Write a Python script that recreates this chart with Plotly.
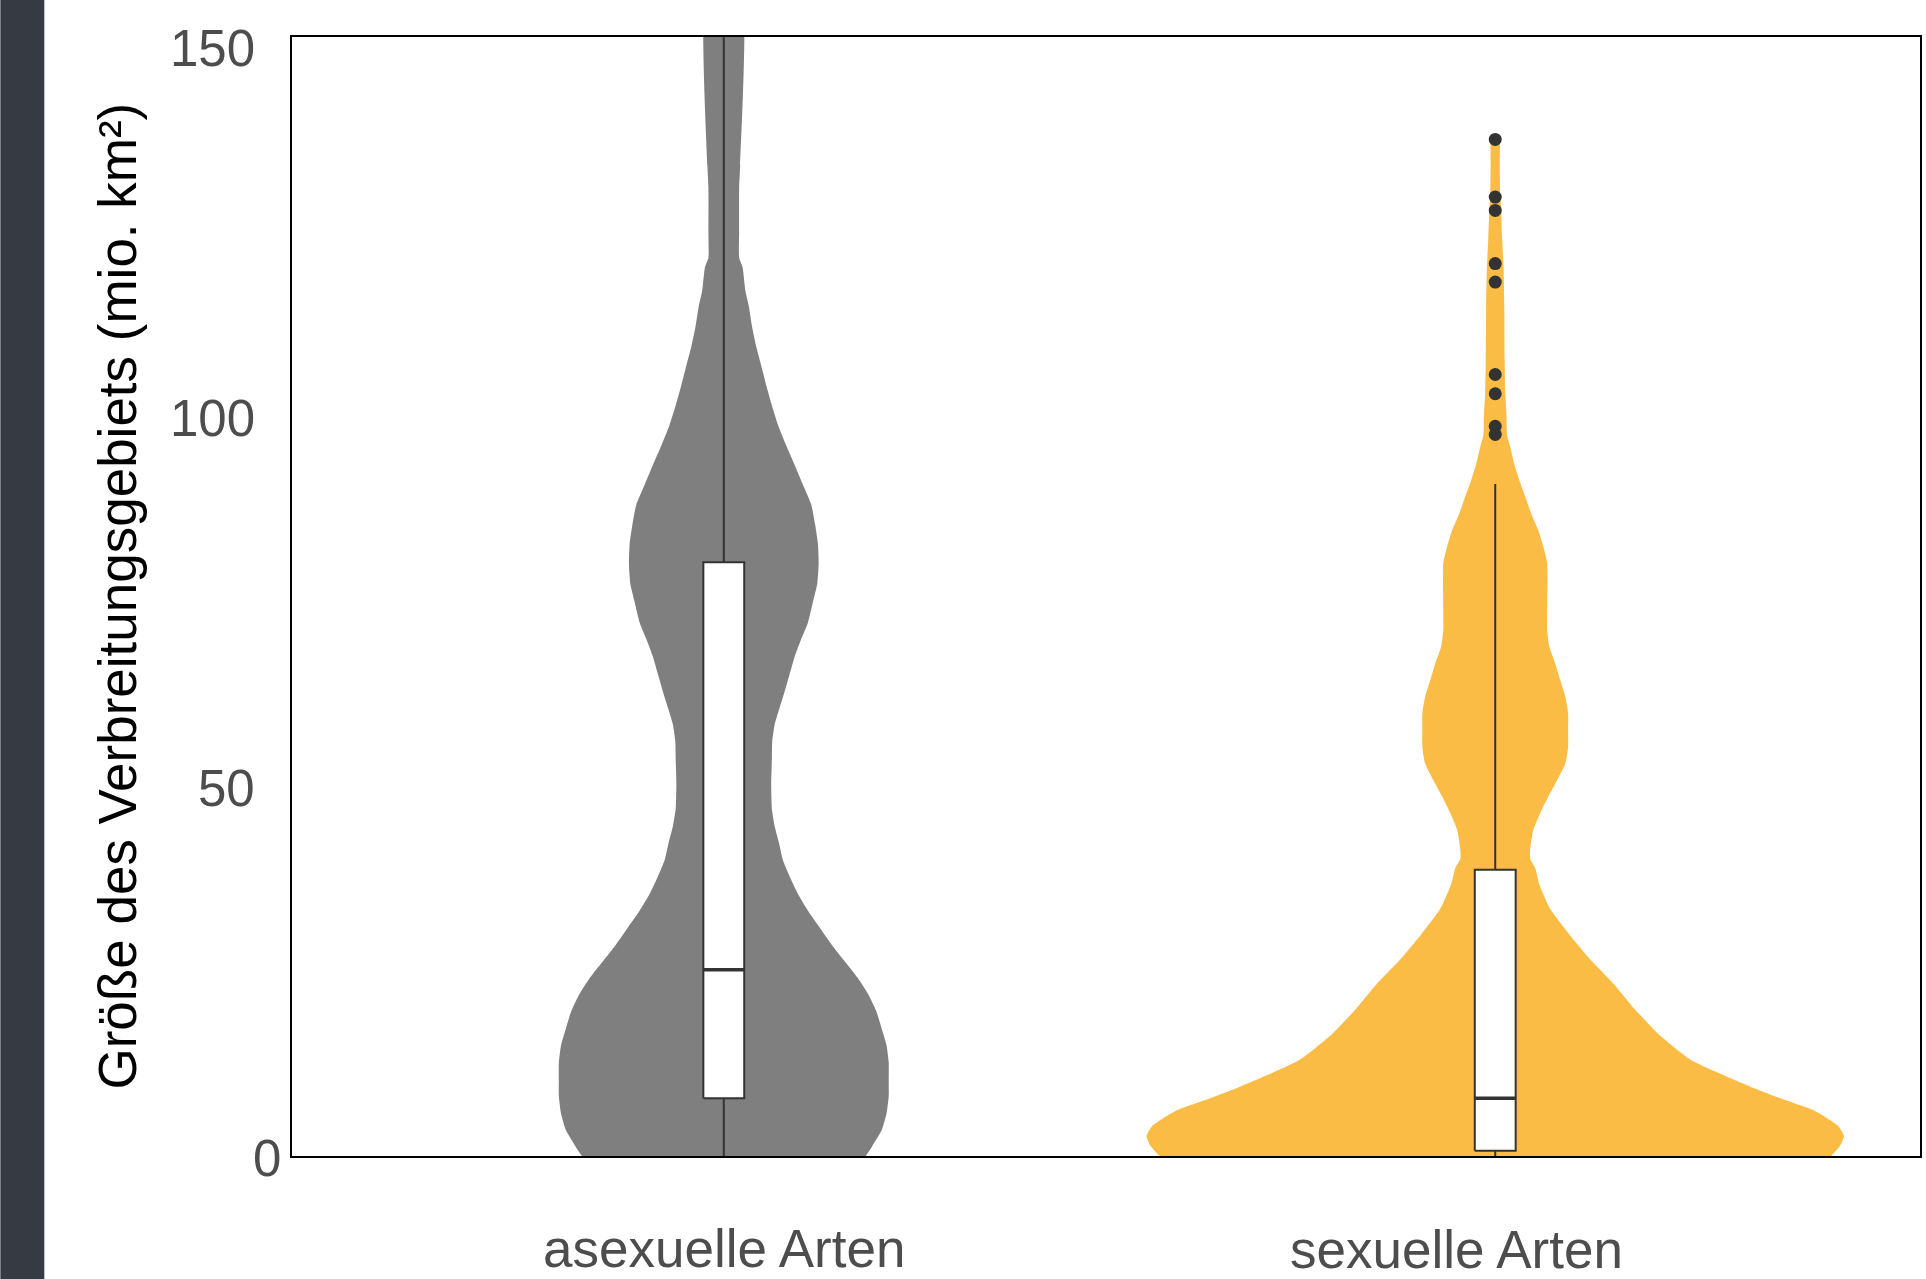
import plotly.graph_objects as go

# ---------------- data ----------------
categories = ["asexuelle Arten", "sexuelle Arten"]
y_ticks = [0, 50, 100, 150]

# violin density profiles (relative half-width)
asex_y = [0, 1.2, 3.5, 5.8, 8.1, 10.3, 12.6, 14.9, 17.2, 19.5, 21.8, 24.1, 26.3, 28.6,
          30.9, 33.2, 35.5, 37.8, 40.1, 42.4, 44.6, 46.9, 50.3, 53.8, 56.1, 58.4, 60.6,
          62.9, 65.2, 67.5, 69.8, 72.1, 74.8, 77.4, 80.1, 82.8, 85.4, 88.1, 90.8, 93.5,
          96.1, 98.8, 101.5, 104.2, 106.8, 109.5, 112.2, 114.9, 117.0, 120.2, 121.5,
          125, 131, 134, 160]
asex_d = [0.407, 0.424, 0.453, 0.467, 0.473, 0.473, 0.473, 0.467, 0.453, 0.438, 0.415,
          0.384, 0.347, 0.309, 0.275, 0.241, 0.212, 0.189, 0.169, 0.158, 0.146, 0.138,
          0.136, 0.138, 0.139, 0.146, 0.160, 0.175, 0.189, 0.203, 0.221, 0.241, 0.255,
          0.268, 0.272, 0.270, 0.262, 0.251, 0.227, 0.203, 0.179, 0.156, 0.138, 0.122,
          0.108, 0.093, 0.081, 0.072, 0.062, 0.054, 0.044, 0.044, 0.044, 0.047, 0.047]

sex_y = [0.0, 1.4, 2.7, 4.1, 6.1, 7.8, 9.5, 12.9, 16.4, 19.8, 23.2, 26.6, 30.0, 33.4,
         36.8, 38.9, 40.2, 41.4, 44.1, 46.4, 48.6, 50.9, 53.1, 55.3, 57.6, 59.9, 62.1,
         64.4, 66.6, 68.9, 71.1, 80.2, 82.4, 84.7, 86.9, 89.2, 91.4, 93.7, 95.9, 97.5,
         100.5, 103, 107.7, 115, 120, 124, 128, 130.3, 134.3, 137.9]
sex_d = [0.963, 0.989, 1.0, 0.983, 0.917, 0.817, 0.725, 0.564, 0.470, 0.401, 0.341,
         0.272, 0.212, 0.158, 0.126, 0.115, 0.100, 0.100, 0.109, 0.129, 0.152, 0.178,
         0.201, 0.209, 0.209, 0.209, 0.201, 0.186, 0.172, 0.155, 0.149, 0.149, 0.138,
         0.123, 0.103, 0.086, 0.069, 0.054, 0.043, 0.034, 0.032, 0.029, 0.027, 0.026,
         0.024, 0.020, 0.017, 0.014, 0.013, 0.011]

# box plot statistics
box_q1 = [7.8, 0.7]
box_median = [25.2, 7.8]
box_q3 = [80.3, 38.7]
box_lower = [0.0, 0.0]
box_upper = [160.0, 90.9]

# outliers of sexual species
sex_outliers = [137.5, 129.7, 127.9, 120.7, 118.2, 105.7, 103.1, 98.7, 97.6]

# ---------------- style ----------------
colors = ["#7f7f7f", "#FABC45"]
MAXW = 0.452      # half width (x units) for density 1.0
BOXW = 0.053
FONT = "Arial, Liberation Sans, sans-serif"
LINEC = "#333333"

fig = go.Figure()

# violins
for i, (ys, ds) in enumerate([(asex_y, asex_d), (sex_y, sex_d)]):
    left = [i - d * MAXW for d in ds]
    right = [i + d * MAXW for d in ds]
    fig.add_trace(go.Scatter(
        x=left + right[::-1], y=ys + ys[::-1],
        fill="toself", fillcolor=colors[i], mode="lines",
        line=dict(width=0, color=colors[i], shape="spline", smoothing=0.5),
        hoverinfo="skip", showlegend=False))

# boxplots (drawn as scatter so they sit above the violins)
h = BOXW / 2
for i in range(2):
    # whiskers
    fig.add_trace(go.Scatter(
        x=[i, i, None, i, i],
        y=[box_lower[i], box_q1[i], None, box_q3[i], box_upper[i]],
        mode="lines", line=dict(color=LINEC, width=2), hoverinfo="skip",
        showlegend=False))
    # box
    fig.add_trace(go.Scatter(
        x=[i - h, i + h, i + h, i - h, i - h],
        y=[box_q1[i], box_q1[i], box_q3[i], box_q3[i], box_q1[i]],
        mode="lines", fill="toself", fillcolor="white",
        line=dict(color=LINEC, width=2), hoverinfo="skip", showlegend=False))
    # median
    fig.add_trace(go.Scatter(
        x=[i - h, i + h], y=[box_median[i], box_median[i]],
        mode="lines", line=dict(color=LINEC, width=3.5), hoverinfo="skip",
        showlegend=False))

fig.add_trace(go.Scatter(
    x=[1] * len(sex_outliers), y=sex_outliers, mode="markers",
    marker=dict(size=13, color=LINEC), showlegend=False))

annotations = []
for t in y_ticks:
    annotations.append(dict(
        x=0, xref="paper", y=t, yref="y", text=str(t), showarrow=False,
        xanchor="right", yanchor="middle", xshift=-9 if t == 0 else -35, yshift=-2,
        font=dict(family=FONT, size=51, color="#4d4d4d")))

label_shift = [(0, -92), (-39, -93)]
for i, c in enumerate(categories):
    annotations.append(dict(
        x=i, xref="x", y=0, yref="paper", text=c, showarrow=False,
        xanchor="center", yanchor="middle",
        xshift=label_shift[i][0], yshift=label_shift[i][1],
        font=dict(family=FONT, size=53, color="#4d4d4d")))

annotations.append(dict(
    x=0, xref="paper", y=0.5, yref="paper",
    text="Größe des Verbreitungsgebiets (mio. km²)", textangle=-90,
    showarrow=False, xanchor="center", yanchor="middle", xshift=-175,
    font=dict(family=FONT, size=53, color="black")))

fig.update_layout(
    width=1926, height=1279,
    margin=dict(l=292, r=4, t=37, b=123, pad=0),
    paper_bgcolor="white", plot_bgcolor="white",
    showlegend=False,
    annotations=annotations,
    shapes=[dict(type="rect", xref="paper", yref="paper",
                 x0=-292 / 1630, x1=(44 - 292) / 1630, y0=-0.2, y1=1.1,
                 fillcolor="#353A43", line=dict(width=0), layer="below")],
    xaxis=dict(range=[-0.5597, 1.5506], showgrid=False, zeroline=False,
               showticklabels=False, ticks="", showline=True, mirror=True,
               linecolor="black", linewidth=2),
    yaxis=dict(range=[0, 151.35], showgrid=False, zeroline=False,
               showticklabels=False, ticks="", showline=True, mirror=True,
               linecolor="black", linewidth=2),
)

fig.write_html("out.html", config={"displayModeBar": False},
               post_script="document.body.style.margin='0';document.body.style.padding='0';")
